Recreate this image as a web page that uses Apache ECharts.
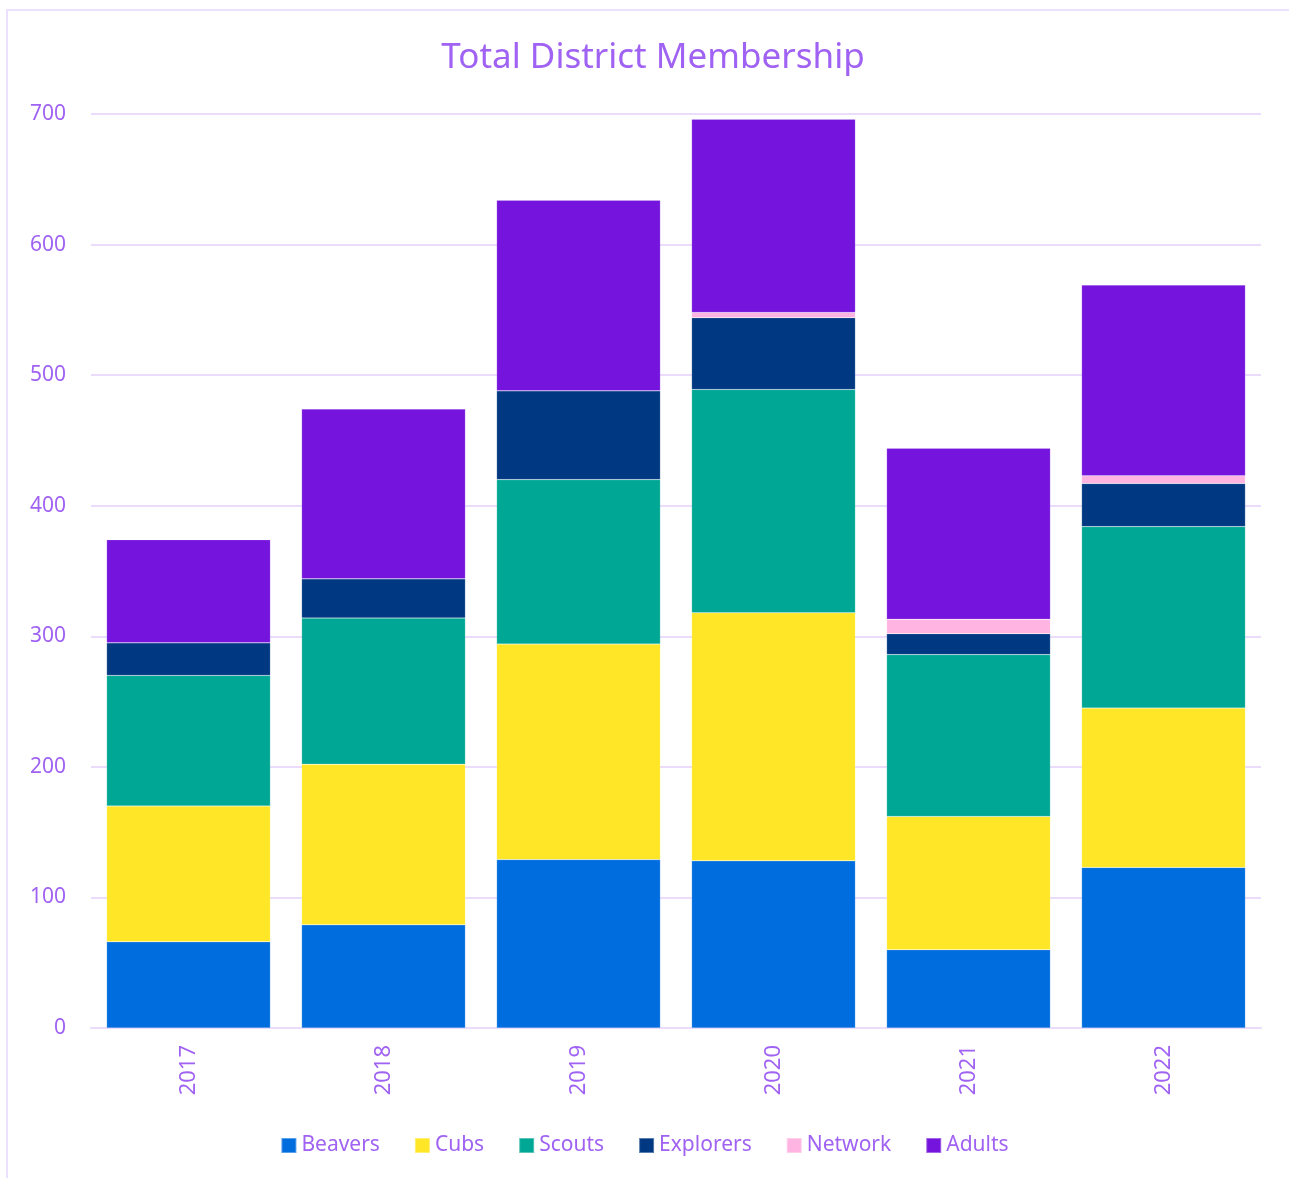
<!DOCTYPE html>
<html>
<head>
<meta charset="utf-8">
<script src="https://cdn.jsdelivr.net/npm/echarts@6/dist/echarts.min.js"></script>
<style>
  html, body { margin: 0; padding: 0; background: #fff; }
  #frame {
    position: absolute; left: 6px; top: 9px; width: 1300px; height: 1200px;
    border-left: 2px solid #ece0ff; border-top: 2px solid #ece0ff;
  }
  #myChart { position: absolute; left: 0; top: 0; width: 1289px; height: 1178px; }
</style>
</head>
<body>
<div id="frame"></div>
<div id="myChart"></div>
<script>
// 年份
var years = ["2017", "2018", "2019", "2020", "2021", "2022"];
var beavers = [66, 79, 129, 128, 60, 123];
var cubs = [104, 123, 165, 190, 102, 122];
var scouts = [100, 112, 126, 171, 124, 139];
var explorers = [25, 30, 68, 55, 16, 33];
var network = [0, 0, 0, 4, 11, 6];
var adults = [79, 130, 146, 148, 131, 146];
var yTicks = [0, 100, 200, 300, 400, 500, 600, 700];

var textColor = "#a062f2";
var fontName = "Noto Sans";
var mycharts = echarts.init(document.getElementById("myChart"));

function bar(name, data, color) {
  return {
    name: name,
    type: "bar",
    stack: "total",
    data: data,
    barCategoryGap: "16%",
    itemStyle: { color: color, borderColor: "rgba(255,255,255,0.35)", borderWidth: 0.5 }
  };
}

var option = {
  animation: false,
  textStyle: { fontFamily: fontName },
  title: {
    text: "Total District Membership",
    left: 648,
    textAlign: "center",
    top: 36,
    textStyle: { color: textColor, fontSize: 35, fontWeight: "normal", fontFamily: fontName }
  },
  legend: {
    data: ["Beavers", "Cubs", "Scouts", "Explorers", "Network", "Adults"],
    bottom: 17,
    left: "center",
    icon: "rect",
    itemWidth: 15,
    itemHeight: 15,
    itemGap: 34,
    textStyle: { color: textColor, fontSize: 21, fontFamily: fontName }
  },
  grid: { left: 91, right: 28, top: 114, bottom: 150 },
  xAxis: {
    type: "category",
    data: years,
    axisLine: { lineStyle: { color: "#ebdcfb", width: 2 } },
    axisTick: { show: false },
    axisLabel: { rotate: 90, color: textColor, fontSize: 22, margin: 17, fontFamily: fontName }
  },
  yAxis: {
    type: "value",
    min: yTicks[0],
    max: yTicks[yTicks.length - 1],
    interval: 100,
    axisLine: { show: false },
    axisTick: { show: false },
    splitLine: { lineStyle: { color: "#ebdcfb", width: 2 } },
    axisLabel: { color: textColor, fontSize: 21, margin: 25, fontFamily: fontName }
  },
  series: [
    bar("Beavers", beavers, "#006ddf"),
    bar("Cubs", cubs, "#ffe627"),
    bar("Scouts", scouts, "#00a794"),
    bar("Explorers", explorers, "#003982"),
    bar("Network", network, "#ffb4e1"),
    bar("Adults", adults, "#7414dc")
  ]
};
mycharts.setOption(option);
</script>
</body>
</html>
